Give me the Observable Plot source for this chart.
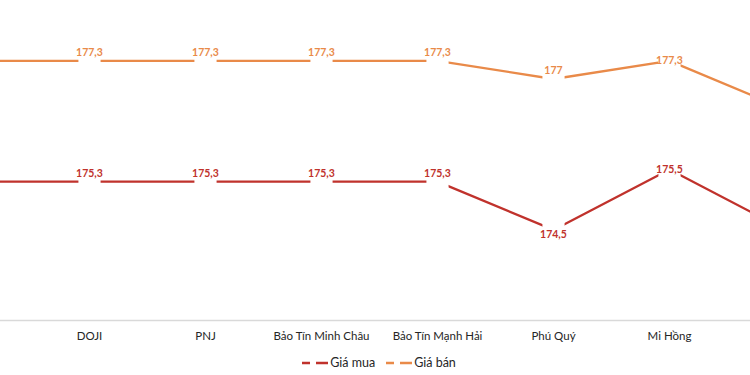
<!DOCTYPE html>
<html><head><meta charset="utf-8">
<script src="https://cdn.jsdelivr.net/npm/d3@7"></script>
<script src="https://cdn.jsdelivr.net/npm/@observablehq/plot@0.6"></script>
<style>
body{margin:0;background:#fff;font-family:Lato,sans-serif;width:750px;height:375px;overflow:hidden}
#legend{display:flex;justify-content:center;align-items:center;height:25px;font-size:12.5px;color:#262626;gap:11px;padding-left:8px}
#legend .it{display:flex;align-items:center;gap:2px}
</style></head><body><div id="chart"></div><div id="legend"></div>
<script>
const brands = ["SJC","DOJI","PNJ","Bảo Tín Minh Châu","Bảo Tín Mạnh Hải","Phú Quý","Mi Hồng","Ngọc Thẩm"];
const giaMua = [175.3,175.3,175.3,175.3,175.3,174.5,175.5,174.5];
const giaBan = [177.3,177.3,177.3,177.3,177.3,177,177.3,176.5];
const seriesNames = ["Giá mua","Giá bán"];
const colors = ["#c0322c","#e98a49"];

// brands whose position falls inside the visible (cropped) picture
const visibleBrands = brands.slice(1, -1);

const data = brands.flatMap((b,i)=>[
  {brand:b, series:seriesNames[0], value:giaMua[i]},
  {brand:b, series:seriesNames[1], value:giaBan[i]}
]);
const labelData = data.filter(d => visibleBrands.includes(d.brand));
const fmt = v => String(v).replace(".", ",");
const labelDy = d => d.brand==="Mi Hồng" ? 0 : (d.series==="Giá mua" && d.brand==="Phú Quý") ? 5 : -8;
const groups = d3.groups(labelData, labelDy);

const chart = Plot.plot({
  width:750, height:350, marginTop:0, marginBottom:30, marginLeft:-86, marginRight:-94,
  style:{fontFamily:"Lato, sans-serif", fontSize:"11.5px", color:"#262626", background:"#fff"},
  x:{type:"point", domain:brands, padding:0.5, label:null, tickSize:0, tickPadding:11, ticks:visibleBrands},
  y:{domain:[173,178.3], axis:null},
  color:{domain:seriesNames, range:colors},
  marks:[
    Plot.ruleY([173],{stroke:"#d9d9d9", strokeWidth:1.5}),
    Plot.lineY(data,{x:"brand", y:"value", z:"series", stroke:"series", strokeWidth:2.3}),
    Plot.dot(labelData,{x:"brand", y:"value", symbol:"square", r:12.5, fill:"white", stroke:null}),
    ...groups.map(([dy, g]) => Plot.text(g,{x:"brand", y:"value", text:d=>fmt(d.value), fill:"series", dy, fontSize:10.5, fontWeight:"bold"}))
  ]
});
document.getElementById("chart").appendChild(chart);

const legend = document.getElementById("legend");
seriesNames.forEach((s,i)=>{
  const it = document.createElement("div"); it.className="it";
  it.innerHTML = `<svg width="26" height="10"><line x1="0" y1="5" x2="26" y2="5" stroke="${colors[i]}" stroke-width="2.3" stroke-dasharray="8,6,12"/></svg><span>${s}</span>`;
  legend.appendChild(it);
});
</script></body></html>
